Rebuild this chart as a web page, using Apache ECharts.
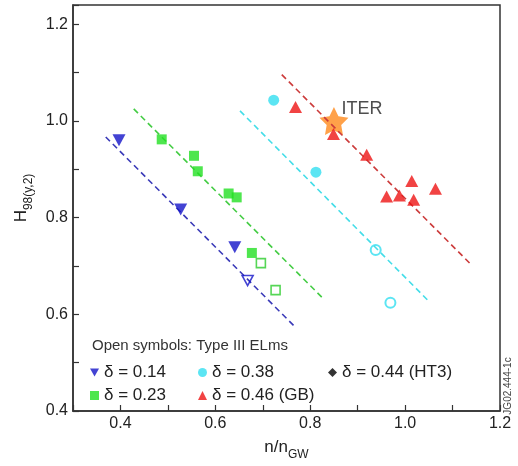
<!DOCTYPE html>
<html><head><meta charset="utf-8">
<script src="https://cdn.jsdelivr.net/npm/echarts@6/dist/echarts.min.js"></script>
<style>html,body{margin:0;padding:0;background:#fff}#c{width:518px;height:466px}</style>
</head><body><div id="c"></div>
<script>
// Tick labels
const xTickLabels = ['0.4','0.6','0.8','1.0','1.2'];
const yTickLabels = ['0.4','0.6','0.8','1.0','1.2'];
// Series values [n/nGW, H98(y,2)]
const d014 = [[0.397,0.960],[0.527,0.817],[0.641,0.739]];
const d014open = [[0.668,0.670]];
const d023 = [[0.487,0.962],[0.555,0.928],[0.563,0.896],[0.628,0.850],[0.645,0.842],[0.677,0.727]];
const d023open = [[0.696,0.706],[0.727,0.650]];
const d038 = [[0.723,1.043],[0.812,0.894]];
const d038open = [[0.938,0.733],[0.969,0.624]];
const d046 = [[0.769,1.029],[0.849,0.973],[0.919,0.930],[1.014,0.876],[0.961,0.844],[0.988,0.846],[1.018,0.837],[1.064,0.860]];
const d044 = [];
const iter = [[0.85,1.0]];
// Fit lines (dashed)
const fit014 = [[0.369,0.967],[0.769,0.573]];
const fit023 = [[0.428,1.025],[0.828,0.632]];
const fit038 = [[0.652,1.021],[1.049,0.628]];
const fit046 = [[0.740,1.096],[1.138,0.704]];

const FONT = 'Liberation Sans';
const BLUE = '#1414c8', GREEN = '#22e022', CYAN = '#33def0', RED = '#ee1414';
const DOWN = 'path://M0,0L10,0L5,9Z';
const STAR = 'path://M0,-10L2.94,-4.05L9.51,-3.09L4.76,1.55L5.88,8.09L0,5L-5.88,8.09L-4.76,1.55L-9.51,-3.09L-2.94,-4.05Z';

function fmt(list){
  return function(v){
    const k = Math.round(v*10);
    if (Math.abs(v*10-k) > 1e-6) return '';
    const s = (k/10).toFixed(1);
    return list.indexOf(s) >= 0 ? s : '';
  };
}
function fitLine(data, color){
  return {type:'line', data:data, symbol:'none', silent:true, z:2,
    lineStyle:{color:color, width:1.6, type:[6,4]}};
}
function legendItem(name, left, top){
  return {data:[name], left:left, top:top, itemWidth:9, itemHeight:9, padding:0,
    textStyle:{fontFamily:FONT, fontSize:17, color:'#222'}, selectedMode:false};
}

const chart = echarts.init(document.getElementById('c'));
chart.setOption({
  animation:false,
  grid:{left:73, right:18, top:5, bottom:46, show:true, borderColor:'#333', borderWidth:1.5},
  xAxis:{type:'value', min:0.3, max:1.2, interval:0.1,
    name:'{a|n/n}{b|GW}', nameLocation:'middle', nameGap:26,
    nameTextStyle:{rich:{a:{fontFamily:FONT, fontSize:17, color:'#222', lineHeight:20},
      b:{fontFamily:FONT, fontSize:12, color:'#222', verticalAlign:'bottom', lineHeight:12, padding:[0,0,-4,0]}}},
    axisLine:{lineStyle:{color:'#333', width:1.5}},
    axisTick:{inside:true, length:6, lineStyle:{color:'#333', width:1.2}},
    axisLabel:{formatter:fmt(xTickLabels), fontFamily:FONT, fontSize:16, color:'#222', margin:5, showMaxLabel:true},
    splitLine:{show:false}},
  yAxis:{type:'value', min:0.4, max:1.24, interval:0.1,
    name:'{a|H}{b|98(y,2)}', nameLocation:'middle', nameGap:42, nameRotate:90,
    nameTextStyle:{padding:[0,0,0,20], rich:{a:{fontFamily:FONT, fontSize:17, color:'#222', lineHeight:20},
      b:{fontFamily:FONT, fontSize:12, color:'#222', verticalAlign:'bottom', lineHeight:12, padding:[0,0,-4,0]}}},
    axisLine:{lineStyle:{color:'#333', width:1.5}},
    axisTick:{inside:true, length:6, lineStyle:{color:'#333', width:1.2}},
    axisLabel:{formatter:fmt(yTickLabels), fontFamily:FONT, fontSize:16, color:'#222', margin:5},
    splitLine:{show:false}},
  legend:[
    legendItem('δ = 0.14', 90, 364),
    legendItem('δ = 0.23', 90, 387),
    legendItem('δ = 0.38', 198, 364),
    legendItem('δ = 0.46 (GB)', 198, 387),
    legendItem('δ = 0.44 (HT3)', 328, 364)
  ],
  graphic:[
    {type:'text', left:92, top:338, style:{text:'Open symbols: Type III ELms', font:'15px "Liberation Sans"', fill:'#333'}},
    {type:'text', x:508, y:386, rotation:Math.PI/2,
      style:{text:'JG02.444-1c', font:'10px "Liberation Sans"', fill:'#444', align:'center', verticalAlign:'middle'}}
  ],
  series:[
    fitLine(fit014, '#3a3ab8'),
    fitLine(fit023, '#44cc44'),
    fitLine(fit038, '#44dde8'),
    fitLine(fit046, '#cc3b3b'),
    {type:'scatter', name:'ITER', data:iter, symbol:STAR, symbolSize:[29,28], z:1,
      itemStyle:{color:'#ff8a1c'},
      label:{show:true, formatter:'ITER', position:[22,-7], fontFamily:FONT, fontSize:18, color:'#222'}},
    {type:'scatter', name:'δ = 0.14', data:d014, symbol:DOWN, symbolSize:[13,12], z:3, itemStyle:{color:BLUE}},
    {type:'scatter', name:'δ = 0.14 open', data:d014open, symbol:DOWN, symbolSize:[11,10], z:3,
      itemStyle:{color:'rgba(0,0,0,0)', borderColor:BLUE, borderWidth:1.6}},
    {type:'scatter', name:'δ = 0.23', data:d023, symbol:'rect', symbolSize:10, z:3, itemStyle:{color:GREEN}},
    {type:'scatter', name:'δ = 0.23 open', data:d023open, symbol:'rect', symbolSize:9, z:3,
      itemStyle:{color:'rgba(0,0,0,0)', borderColor:'#2ccc2c', borderWidth:1.6}},
    {type:'scatter', name:'δ = 0.38', data:d038, symbol:'circle', symbolSize:11, z:3, itemStyle:{color:CYAN}},
    {type:'scatter', name:'δ = 0.38 open', data:d038open, symbol:'circle', symbolSize:10, z:3,
      itemStyle:{color:'rgba(0,0,0,0)', borderColor:CYAN, borderWidth:2}},
    {type:'scatter', name:'δ = 0.46 (GB)', data:d046, symbol:'triangle', symbolSize:[13,12], z:3, itemStyle:{color:RED}},
    {type:'scatter', name:'δ = 0.44 (HT3)', data:d044, symbol:'diamond', symbolSize:9, z:3, itemStyle:{color:'#000'}}
  ]
});
</script></body></html>
